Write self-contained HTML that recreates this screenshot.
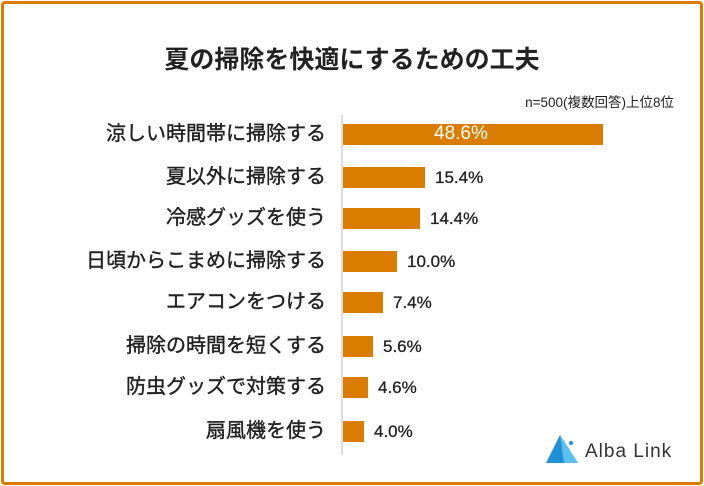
<!DOCTYPE html><html><head><meta charset="utf-8"><style>
body{margin:0;width:704px;height:486px;background:#fff;font-family:"Liberation Sans","Noto Sans CJK JP",sans-serif;position:relative;overflow:hidden}
.frame{position:absolute;left:1px;top:1px;width:696px;height:478px;border:3px solid #d97c00;border-radius:4px}
.t{position:absolute;left:0;width:704px;top:40px;text-align:center;font-size:25px;font-weight:bold;color:#222}
.n{position:absolute;right:30px;top:91px;font-size:13.5px;color:#222}
.ax{position:absolute;left:341px;top:115px;width:2px;height:340px;background:#ddd}
.l{position:absolute;right:378px;font-size:20px;color:#222;-webkit-text-stroke:0.4px #222;white-space:nowrap;line-height:20px}
.b{position:absolute;left:343px;height:21px;background:#d97c00}
.v{position:absolute;font-size:17px;color:#222;-webkit-text-stroke:0.3px #222;line-height:20px}
</style></head><body>
<div class="frame"></div>
<div class="t">夏の掃除を快適にするための工夫</div>
<div class="n">n=500(複数回答)上位8位</div>
<div class="ax"></div>
<div class="l" style="top:124px">涼しい時間帯に掃除する</div><div class="b" style="top:124px;width:260px"></div><div class="v" style="top:124px;left:434px;color:#fff;-webkit-text-stroke:0;font-size:19px">48.6%</div>
<div class="l" style="top:167px">夏以外に掃除する</div><div class="b" style="top:167px;width:82px"></div><div class="v" style="top:168px;left:435px">15.4%</div>
<div class="l" style="top:208px">冷感グッズを使う</div><div class="b" style="top:208px;width:77px"></div><div class="v" style="top:209px;left:430px">14.4%</div>
<div class="l" style="top:251px">日頃からこまめに掃除する</div><div class="b" style="top:251px;width:54px"></div><div class="v" style="top:252px;left:407px">10.0%</div>
<div class="l" style="top:292px">エアコンをつける</div><div class="b" style="top:292px;width:40px"></div><div class="v" style="top:293px;left:393px">7.4%</div>
<div class="l" style="top:336px">掃除の時間を短くする</div><div class="b" style="top:336px;width:30px"></div><div class="v" style="top:337px;left:383px">5.6%</div>
<div class="l" style="top:377px">防虫グッズで対策する</div><div class="b" style="top:377px;width:25px"></div><div class="v" style="top:378px;left:378px">4.6%</div>
<div class="l" style="top:421px">扇風機を使う</div><div class="b" style="top:421px;width:21px"></div><div class="v" style="top:422px;left:374px">4.0%</div>
<svg style="position:absolute;left:544px;top:433px" width="36" height="32"><polygon points="16,2 2,30 34,30" fill="#1f8fd6"/><polygon points="16,2 34,30 20,30" fill="#5bc0ee"/><circle cx="27" cy="10" r="2" fill="#1f8fd6"/></svg>
<div style="position:absolute;left:585px;top:441px;font-size:19px;color:#333;letter-spacing:1px">Alba Link</div>
</body></html>
